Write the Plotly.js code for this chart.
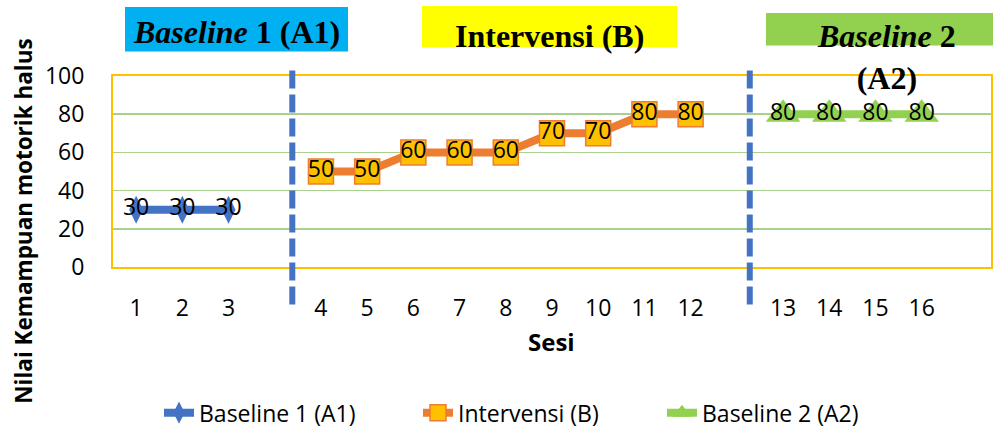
<!DOCTYPE html>
<html>
<head>
<meta charset="utf-8">
<script src="https://cdn.plot.ly/plotly-3.0.1.min.js"></script>
<style>html,body{margin:0;padding:0;background:#fff;}#chart{width:993px;height:436px;}</style>
</head>
<body>
<div id="chart"></div>
<script>
// ---- data ----
const categories = ['1','2','3',' ','4','5','6','7','8','9','10','11','12','  ','13','14','15','16','   '];
const sesiA1 = ['1','2','3'];
const nilaiA1 = [30,30,30];
const sesiB = ['4','5','6','7','8','9','10','11','12'];
const nilaiB = [50,50,60,60,60,70,70,80,80];
const sesiA2 = ['13','14','15','16'];
const nilaiA2 = [80,80,80,80];
const seriesNames = ['Baseline 1 (A1)','Intervensi (B)','Baseline 2 (A2)'];
const phaseLines = [3.38, 13.28]; // category-index positions of phase separators

// ---- pixel helpers for paper placement ----
const L=113, R=991, T=76, B=270;
const fx = p => (p-L)/(R-L);
const fy = p => (B-p)/(B-T);

const FONT = 'Open Sans, sans-serif';
const SERIF = 'Liberation Serif, Times New Roman, serif';
const LBL = 23;

const traces = [
  {x: sesiA1, y: nilaiA1, name: seriesNames[0], type:'scatter', mode:'lines+markers+text', legendwidth:214,
   text: nilaiA1.map(String), textposition:'middle center', textfont:{family:FONT,size:LBL,color:'#000'},
   line:{color:'#4472C4', width:8}, marker:{symbol:'diamond-tall', size:20, color:'#4472C4'}},
  {x: sesiB, y: nilaiB, name: seriesNames[1], type:'scatter', mode:'lines+markers+text', legendwidth:199,
   text: nilaiB.map(String), textposition:'middle center', textfont:{family:FONT,size:LBL,color:'#000'},
   line:{color:'#ED7D31', width:8}, marker:{symbol:'square', size:25, color:'#FFC000', line:{color:'#ED7D31', width:1.5}}},
  {x: sesiA2, y: nilaiA2, name: seriesNames[2], type:'scatter', mode:'lines+markers+text',
   text: nilaiA2.map(String), textposition:'middle center', textfont:{family:FONT,size:LBL,color:'#000'},
   line:{color:'#92D050', width:8}, marker:{symbol:'triangle-up', size:30, color:'#92D050'}}
];

const shapes = [
  // header boxes
  {type:'rect', xref:'paper', yref:'paper', x0:fx(125), x1:fx(348), y0:fy(51), y1:fy(6), fillcolor:'#00B0F0', line:{width:0}, layer:'below'},
  {type:'rect', xref:'paper', yref:'paper', x0:fx(422), x1:fx(677), y0:fy(47), y1:fy(5), fillcolor:'#FFFF00', line:{width:0}, layer:'below'},
  {type:'rect', xref:'paper', yref:'paper', x0:fx(766), x1:fx(993), y0:fy(45), y1:fy(12), fillcolor:'#92D050', line:{width:0}, layer:'below'}
];
phaseLines.forEach(xv => shapes.push({type:'line', xref:'x', yref:'paper', x0:xv, x1:xv, y0:fy(308), y1:fy(68),
  line:{color:'#4472C4', width:6, dash:'18px,6px'}}));

const annotations = [
  {xref:'paper', yref:'paper', x:fx(236), y:fy(31), text:'<b><i>Baseline</i> 1 (A1)</b>', showarrow:false,
   font:{family:SERIF, size:32, color:'#000'}, xanchor:'center', yanchor:'middle'},
  {xref:'paper', yref:'paper', x:fx(549), y:fy(35), text:'<b>Intervensi (B)</b>', showarrow:false,
   font:{family:SERIF, size:32, color:'#000'}, xanchor:'center', yanchor:'middle'},
  {xref:'paper', yref:'paper', x:fx(886), y:fy(57), text:'<b><i>Baseline</i> 2<br>(A2)</b>', showarrow:false,
   font:{family:SERIF, size:32, color:'#000'}, xanchor:'center', yanchor:'middle'},
  {xref:'paper', yref:'paper', x:fx(24), y:fy(224), text:'<b>Nilai Kemampuan motorik halus</b>', showarrow:false,
   textangle:-90, font:{family:FONT, size:22.5, color:'#000'}, xanchor:'center', yanchor:'middle'},
  {xref:'paper', yref:'paper', x:fx(551), y:fy(346), text:'<b>Sesi</b>', showarrow:false,
   font:{family:FONT, size:24, color:'#000'}, xanchor:'center', yanchor:'middle'}
];

const layout = {
  width:993, height:436,
  margin:{l:113, r:2, t:76, b:166},
  paper_bgcolor:'#fff', plot_bgcolor:'#fff',
  font:{family:FONT, size:23, color:'#000'},
  showlegend:true,
  legend:{orientation:'h', x:fx(159), y:fy(418), xanchor:'left', yanchor:'middle',
          font:{family:FONT, size:23, color:'#000'}},
  xaxis:{type:'category', categoryorder:'array', categoryarray:categories, range:[-0.5, 18.5],
         showgrid:false, zeroline:false, showline:true, mirror:true, linecolor:'#FFC000', linewidth:2,
         ticks:'outside', ticklen:19, tickcolor:'rgba(0,0,0,0)', tickfont:{family:FONT, size:23, color:'#000'}},
  yaxis:{range:[0,100], dtick:20, tick0:0, showgrid:true, gridcolor:'#A9D18E', gridwidth:1.5, zeroline:false,
         showline:true, mirror:true, linecolor:'#FFC000', linewidth:2,
         ticks:'outside', ticklen:22, tickcolor:'rgba(0,0,0,0)', tickfont:{family:FONT, size:23, color:'#000'}},
  shapes:shapes,
  annotations:annotations
};

Plotly.newPlot('chart', traces, layout, {displayModeBar:false, staticPlot:true});
</script>
</body>
</html>
